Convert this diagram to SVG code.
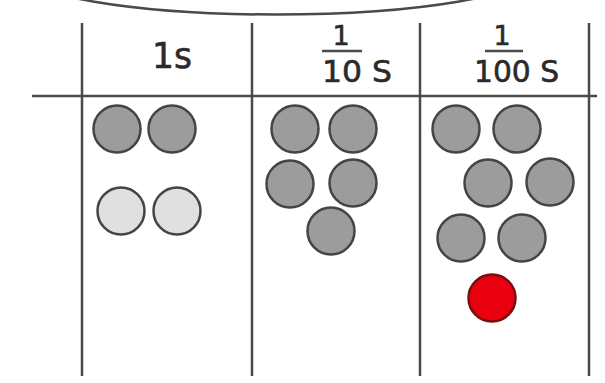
<svg xmlns="http://www.w3.org/2000/svg" width="605" height="383" viewBox="0 0 605 383">
<style>
.ln{stroke:#4a4a4a;stroke-width:2.5;fill:none}
.c{stroke:#454545;stroke-width:2.5}
.dk{fill:#9c9c9c}
.lt{fill:#e0e0e0}
.rd{fill:#e8000f;stroke:#7a0f0f}
.t{font-family:"DejaVu Sans","Liberation Sans",Arial,sans-serif;fill:#2a2a2a;stroke:#2a2a2a;stroke-width:0.6}
</style>
<rect width="605" height="383" fill="#fff"/>
<g id="frame">
<ellipse class="ln" cx="276" cy="-30" rx="259" ry="44.5" stroke-width="2"/>
<line class="ln" x1="32" y1="96" x2="597" y2="96" stroke-width="3"/>
<line class="ln" x1="82" y1="23" x2="82" y2="376"/>
<line class="ln" x1="252" y1="23" x2="252" y2="376"/>
<line class="ln" x1="420" y1="23" x2="420" y2="376"/>
<line class="ln" x1="589" y1="23" x2="589" y2="376"/>
</g>
<g id="header-1s"><text class="t" x="172" y="68" font-size="35" text-anchor="middle" textLength="40" lengthAdjust="spacingAndGlyphs">1s</text></g>
<g id="header-10">
<text class="t" x="341" y="45" font-size="27" text-anchor="middle">1</text>
<line class="ln" x1="322" y1="51" x2="362" y2="51" stroke-width="3"/>
<text class="t" x="322" y="82" font-size="30" textLength="70" lengthAdjust="spacingAndGlyphs">10 S</text>
</g>
<g id="header-100">
<text class="t" x="502" y="45" font-size="27" text-anchor="middle">1</text>
<line class="ln" x1="485" y1="51" x2="523" y2="51" stroke-width="3"/>
<text class="t" x="474" y="82" font-size="30" textLength="85" lengthAdjust="spacingAndGlyphs">100 S</text>
</g>
<g id="col1">
<circle class="c dk" cx="117" cy="129" r="23.5"/>
<circle class="c dk" cx="172" cy="129" r="23.5"/>
<circle class="c lt" cx="121" cy="211" r="23.5"/>
<circle class="c lt" cx="177" cy="211" r="23.5"/>
</g>
<g id="col2">
<circle class="c dk" cx="295" cy="129" r="23.5"/>
<circle class="c dk" cx="353" cy="129" r="23.5"/>
<circle class="c dk" cx="290" cy="184" r="23.5"/>
<circle class="c dk" cx="353" cy="183" r="23.5"/>
<circle class="c dk" cx="331" cy="231" r="23.5"/>
</g>
<g id="col3">
<circle class="c dk" cx="456" cy="129" r="23.5"/>
<circle class="c dk" cx="517" cy="129" r="23.5"/>
<circle class="c dk" cx="488" cy="183" r="23.5"/>
<circle class="c dk" cx="550" cy="182" r="23.5"/>
<circle class="c dk" cx="461" cy="238" r="23.5"/>
<circle class="c dk" cx="522" cy="238" r="23.5"/>
<circle class="c rd" cx="492" cy="298" r="23.5"/>
</g>
</svg>
